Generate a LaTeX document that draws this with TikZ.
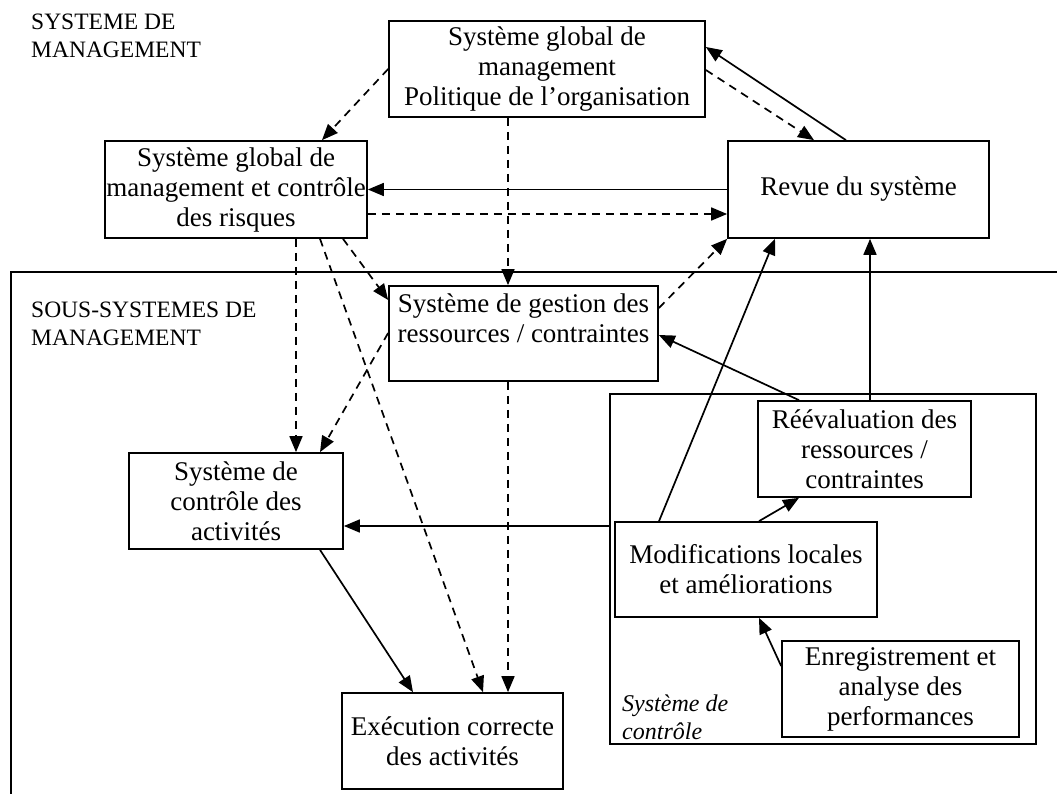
\documentclass[tikz,border=0pt]{standalone}
\usepackage{fontspec}
\setmainfont{Liberation Serif}
\usetikzlibrary{arrows.meta}
\begin{document}
\begin{tikzpicture}[x=1pt,y=-1pt,
  box/.style={draw, line width=1.7pt, align=center, inner sep=0pt, font=\fontsize{27}{30}\selectfont},
  frame/.style={draw, line width=1.7pt, inner sep=0pt},
  con/.style={line width=1.7pt, -{Triangle[length=16pt,width=13pt]}},
  dsh/.style={con, dash pattern=on 8pt off 6pt},
  lbl/.style={align=left, inner sep=0pt, anchor=north west, font=\fontsize{23.5}{27.5}\selectfont}]
\useasboundingbox (0,0) rectangle (1057,794);
% outer frame of sub-systems
\draw[line width=1.7pt] (11,800) -- (11,272) -- (1060,272);

\node[lbl] (l1) at (31,14) {SYSTEME DE\\MANAGEMENT};
\node[lbl] (l2) at (31,302) {SOUS-SYSTEMES DE\\MANAGEMENT};

\node[box, minimum width=316pt, minimum height=96pt] (top) at (547,69) {Système global de\\management\\Politique de l’organisation};
\node[box, minimum width=262pt, minimum height=97pt] (risk) at (236,189.5) {Système global de\\management et contrôle\\des risques};
\node[box, minimum width=261pt, minimum height=97pt] (rev) at (858.5,189.5) {Revue du système};
\node[box, minimum width=269pt, minimum height=95pt] (gest) at (523.5,333.5) {Système de gestion des\\ressources / contraintes\\\mbox{}};
\node[frame, minimum width=426pt, minimum height=350pt] (ctl) at (823,569) {};
\node[lbl, font=\fontsize{24}{28}\selectfont\itshape] (sc) at (622,695) {Système de\\contrôle};
\node[box, minimum width=213pt, minimum height=96pt] (ree) at (864.5,449) {Réévaluation des\\ressources /\\contraintes};
\node[box, minimum width=214pt, minimum height=96pt] (act) at (236,501) {Système de\\contrôle des\\activités};
\node[box, minimum width=262pt, minimum height=95pt] (mod) at (746,569.5) {Modifications locales\\et améliorations};
\node[box, minimum width=237pt, minimum height=96pt] (enr) at (900.5,689) {Enregistrement et\\analyse des\\performances};
\node[box, minimum width=221pt, minimum height=96pt] (exe) at (452.5,741) {Exécution correcte\\des activités};

% connectors
\draw[dsh] (top.west) -- ([xshift=86pt]risk.north);
\draw[dsh] ([xshift=-39pt]top.south) -- ([xshift=-15.5pt]gest.north);
\draw[con] ([xshift=-12.5pt]rev.north) -- ([yshift=22pt]top.east);
\draw[dsh] ([yshift=-1pt]top.east) -- ([xshift=-44.5pt]rev.north);
\draw[con] (rev.west) -- (risk.east);
\draw[dsh] ([yshift=-24.5pt]risk.east) -- ([yshift=-24.5pt]rev.west);
\draw[dsh] ([xshift=60pt]risk.south) -- ([xshift=60pt]act.north);
\draw[dsh] ([xshift=84pt]risk.south) -- ([xshift=30.5pt]exe.north);
\draw[dsh] ([xshift=107pt]risk.south) -- ([yshift=33.5pt]gest.west);
\draw[dsh] ([yshift=0.5pt]gest.west) -- ([xshift=84pt]act.north);
\draw[dsh] ([yshift=25.5pt]gest.east) -- (rev.south west);
\draw[dsh] ([xshift=-15.5pt]gest.south) -- ([xshift=55.5pt]exe.north);
\draw[con] ([xshift=84pt]act.south) -- ([xshift=-39.5pt]exe.north);
\draw[con] ([xshift=-87pt]mod.north) -- ([xshift=-83.5pt]rev.south);
\draw[con] ([xshift=5.5pt]ree.north) -- ([xshift=11.5pt]rev.south);
\draw[con] ([xshift=-65.5pt]ree.north) -- ([yshift=-1.5pt]gest.east);
\draw[con] ([xshift=13pt]mod.north) -- ([xshift=-65.5pt]ree.south);
\draw[con] ([yshift=23pt]enr.west) -- ([xshift=13pt]mod.south);
\draw[con] ([yshift=43pt]ctl.west) -- ([yshift=-25pt]act.east);
\end{tikzpicture}
\end{document}
